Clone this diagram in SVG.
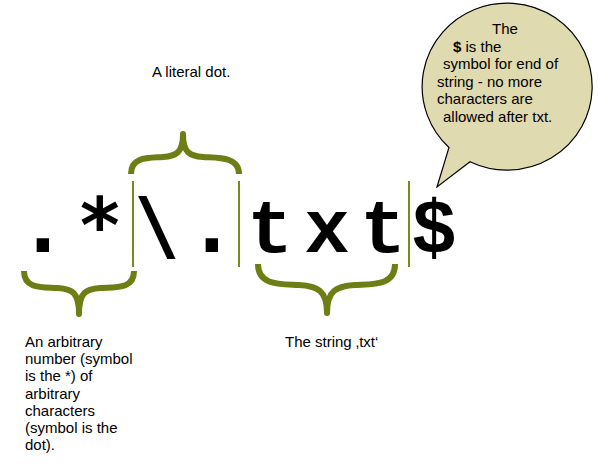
<svg xmlns="http://www.w3.org/2000/svg" width="599" height="473" viewBox="0 0 599 473">
<style>
.lbl{font-family:"Liberation Sans",Arial,sans-serif;font-size:15px;fill:#000}
.big{font-family:"DejaVu Sans Mono","Liberation Mono",monospace;font-weight:bold;font-size:76px;fill:#000;text-anchor:middle}
.big2{font-family:"Liberation Mono","DejaVu Sans Mono",monospace;font-weight:bold;font-size:76px;fill:#000;text-anchor:middle}
.brace{fill:none;stroke:#6e7d14;stroke-width:6;stroke-linecap:butt;stroke-linejoin:round}
.sep{stroke:#7a881c;stroke-width:2}
</style>
<rect width="599" height="473" fill="#fff"/>
<g id="regex">
<text class="big" x="43 100 157 212" y="252">.*\.</text>
<text class="big2" x="270 327 383 434" y="252">txt$</text>
</g>
<g id="connectors">
<line class="sep" x1="133" y1="181" x2="133" y2="267"/>
<line class="sep" x1="239" y1="181" x2="239" y2="267"/>
<line class="sep" x1="409" y1="181" x2="409" y2="267"/>
<path class="brace" d="M24,271 C24,290 44,287 58,288 C72,289 79,292 79,314 C79,292 86,289 100,288 C114,287 134,290 134,271"/>
<path class="brace" d="M131,174 C131,156 150,158 163,157 C176,156 183,153 183,134 C183,153 190,156 203,157 C216,158 239,156 239,174"/>
<path class="brace" d="M258,264 C258,286 281,284 299,285 C317,286 327,290 327,313 C327,290 337,286 355,285 C373,284 395,286 395,264"/>
</g>
<g id="bubble">
<path d="M470,161.7 A85,83.5 0 1 0 449,147.5 L437,187 Z" fill="#dfdab0" stroke="#000" stroke-width="1.2"/>
<text class="lbl" x="492" y="34">The</text>
<text class="lbl" x="453" y="52"><tspan font-weight="bold">$</tspan> is the</text>
<text class="lbl" x="443" y="69">symbol for end of</text>
<text class="lbl" x="437" y="87">string - no more</text>
<text class="lbl" x="437" y="104">characters are</text>
<text class="lbl" x="443" y="122">allowed after txt.</text>
</g>
<g id="label-dot">
<text class="lbl" x="152" y="77">A literal dot.</text>
</g>
<g id="label-string">
<text class="lbl" x="285" y="347">The string ‚txt‘</text>
</g>
<g id="label-any">
<text class="lbl" x="25" y="347">An arbitrary</text>
<text class="lbl" x="25" y="364.2">number (symbol</text>
<text class="lbl" x="25" y="381.4">is the *) of</text>
<text class="lbl" x="25" y="398.6">arbitrary</text>
<text class="lbl" x="25" y="415.8">characters</text>
<text class="lbl" x="25" y="433">(symbol is the</text>
<text class="lbl" x="25" y="450.2">dot).</text>
</g>
</svg>
